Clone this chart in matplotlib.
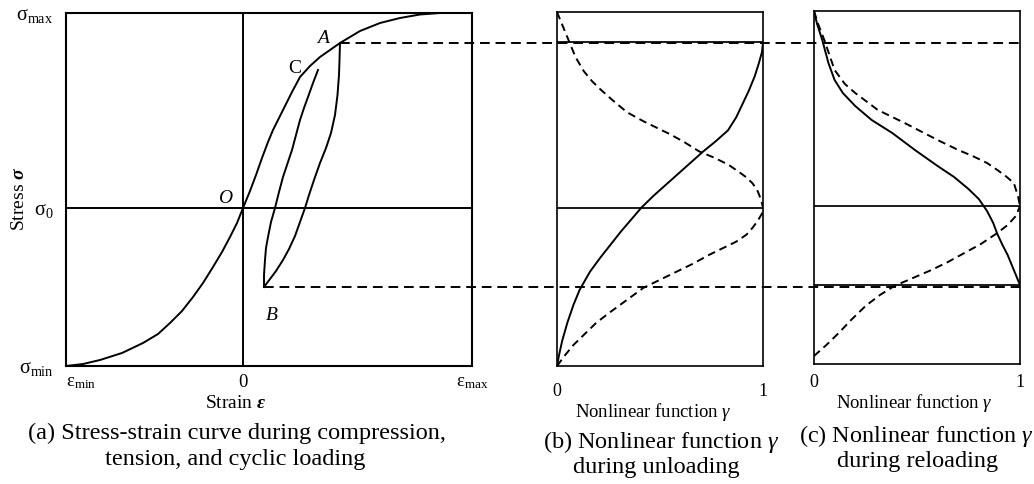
import matplotlib
matplotlib.use("Agg")
import matplotlib.pyplot as plt
from matplotlib.lines import Line2D

plt.rcParams['font.family'] = ['Liberation Serif', 'DejaVu Serif']
plt.rcParams['mathtext.fontset'] = 'custom'
plt.rcParams['mathtext.rm'] = 'Liberation Serif'
plt.rcParams['mathtext.it'] = 'Liberation Serif:italic'
plt.rcParams['mathtext.bf'] = 'Liberation Serif:style=italic:weight=bold'

# ---------------- data (arbitrary units) ----------------
eps_min, eps_max = -177, 229
sig_min, sig_max = -158, 195

strain_main = [-177, -160, -143, -121, -100, -85, -73, -61, -50, -40, -30, -21, -13, -6, 0,
               7, 13, 19, 25, 30, 40, 49, 57, 67, 77, 87, 97, 117, 137, 157, 177, 197, 229]
stress_main = [-158, -156, -152, -145, -135, -126, -115, -103, -89, -75, -59, -44, -29, -15, 0,
               17, 33, 50, 66, 78, 98, 116, 131, 142, 151, 158, 165, 177, 185, 190, 193.5, 195, 195]

strain_unload = [97, 96.5, 96, 94.5, 92, 88, 83, 77, 71, 66, 62, 57, 52, 46, 40, 33, 27, 21]
stress_unload = [165, 148, 133, 113, 93, 75, 60, 45, 28, 13, 0, -14, -28, -41, -52, -63, -71, -79]

strain_reload = [21, 21, 22, 23, 25, 28, 32, 36, 40, 45, 49, 53, 57, 61, 65, 70, 75]
stress_reload = [-79, -67, -52, -40, -29, -14, 0, 16, 31, 46, 58, 73, 88, 100, 111, 125, 138]

point_A = (97, 165)
point_B = (21, -79)

# panel (b): unloading
gamma_b_solid = [0, 0.01, 0.025, 0.05, 0.08, 0.11, 0.16, 0.21, 0.26, 0.31, 0.36, 0.41, 0.47,
                 0.53, 0.59, 0.65, 0.71, 0.77, 0.83, 0.87, 0.90, 0.93, 0.96, 0.98, 0.995, 1.0]
stress_b_solid = [-158, -147, -133, -115, -97, -82, -64, -50, -37, -24, -12, 0, 12,
                  23, 34, 45, 56, 66, 77, 90, 103, 116, 131, 144, 155, 165]
gamma_b_dash_up = [0, 0.03, 0.06, 0.09, 0.13, 0.17, 0.21, 0.27, 0.34, 0.42, 0.49, 0.55, 0.62,
                   0.69, 0.76, 0.83, 0.88, 0.92, 0.95, 0.975, 0.99, 1.0]
stress_b_dash_up = [195, 180, 165, 150, 136, 126, 118, 107, 95, 86, 79, 73, 65,
                    56, 50, 43, 36, 30, 24, 16, 8, 0]
gamma_b_dash_lo = [0, 0.04, 0.08, 0.13, 0.19, 0.26, 0.34, 0.42, 0.50, 0.58, 0.66, 0.74, 0.81,
                   0.87, 0.92, 0.95, 0.975, 0.995, 1.0]
stress_b_dash_lo = [-158, -147, -137, -127, -115, -104, -92, -80, -72, -64, -56, -47, -40,
                    -34, -27, -20, -13, -6, 0]

# panel (c): reloading
gamma_c_solid = [0, 0.015, 0.04, 0.07, 0.10, 0.14, 0.20, 0.28, 0.38, 0.49, 0.60, 0.68, 0.75,
                 0.80, 0.84, 0.87, 0.89, 0.915, 0.94, 0.97, 1.0]
stress_c_solid = [195, 182, 166, 143, 126, 113, 100, 86, 73, 56, 40, 29, 17,
                  7, -5, -17, -28, -39, -49, -64, -79]
gamma_c_dash_up = [0, 0.02, 0.05, 0.10, 0.15, 0.20, 0.31, 0.44, 0.60, 0.70, 0.77, 0.84, 0.89,
                   0.93, 0.97, 0.99, 1.0]
stress_c_dash_up = [195, 182, 166, 136, 122, 113, 96, 83, 66, 56, 50, 43, 36,
                    30, 23, 10, 0]
gamma_c_dash_lo = [0, 0.06, 0.12, 0.18, 0.25, 0.32, 0.39, 0.48, 0.57, 0.65, 0.73, 0.81, 0.89,
                   0.94, 0.98, 1.0]
stress_c_dash_lo = [-150, -139, -127, -114, -100, -89, -80, -72, -64, -56, -47, -38, -27,
                    -19, -10, 0]

x_tick_labels_a = [r'$\mathrm{ε}_{\mathrm{min}}$', '0', r'$\mathrm{ε}_{\mathrm{max}}$']
y_tick_labels_a = [r'$\mathrm{σ}_{\mathrm{min}}$', r'$\mathrm{σ}_{\mathrm{0}}$', r'$\mathrm{σ}_{\mathrm{max}}$']
gamma_ticks = [0, 1]

# ---------------- figure ----------------
W, H = 1034, 484
fig = plt.figure(figsize=(W / 100, H / 100), dpi=100)


def px_axes(left, top, right, bottom):
    return fig.add_axes([left / W, 1 - bottom / H, (right - left) / W, (bottom - top) / H])


ax_a = px_axes(66, 13, 472, 366)
ax_b = px_axes(557, 12, 763, 366)
ax_c = px_axes(814, 11, 1020, 364)

LW = 1.4
DASH = (0, (4, 2.5))
CONN = (0, (5, 3))
K = 'black'

# panel (a)
ax_a.set_xlim(eps_min, eps_max)
ax_a.set_ylim(sig_min, sig_max)
ax_a.axvline(0, color=K, lw=LW)
ax_a.axhline(0, color=K, lw=LW)
ax_a.plot(strain_main, stress_main, color=K, lw=LW, solid_joinstyle='round')
ax_a.plot(strain_unload, stress_unload, color=K, lw=LW, solid_joinstyle='round')
ax_a.plot(strain_reload, stress_reload, color=K, lw=LW, solid_joinstyle='round')
for s in ax_a.spines.values():
    s.set_linewidth(1.5)
ax_a.set_xticks([eps_min, 0, eps_max])
ax_a.set_xticklabels(x_tick_labels_a, fontsize=13.5)
ax_a.get_xticklabels()[0].set_ha('left')
ax_a.set_yticks([sig_min, 0, sig_max])
ax_a.set_yticklabels(y_tick_labels_a, fontsize=14.5)
ax_a.tick_params(axis='x', length=0, pad=6)
ax_a.tick_params(axis='y', length=0, pad=9)
ax_a.set_xlabel(r'Strain $\mathbf{ε}$', fontsize=14)
ax_a.xaxis.set_label_coords(0.419, -0.105)
ax_a.xaxis.label.set_va('center')
ax_a.set_ylabel(r'Stress $\mathbf{σ}$', fontsize=14)
ax_a.yaxis.set_label_coords(-0.114, 0.473)
ax_a.yaxis.label.set_va('center')

ax_a.text(80, 170, 'A', style='italic', fontsize=14, ha='center', va='center')
ax_a.text(52, 140, 'C', fontsize=14, ha='center', va='center')
ax_a.text(-18, 10, 'O', style='italic', fontsize=14, ha='center', va='center')
ax_a.text(29, -107, 'B', style='italic', fontsize=14, ha='center', va='center')

# panel (b)
ax_b.set_xlim(0, 1)
ax_b.set_ylim(sig_min, sig_max)
ax_b.axhline(0, color=K, lw=LW * 0.9)
ax_b.axhline(point_A[1], color=K, lw=LW * 0.9)
ax_b.plot(gamma_b_solid, stress_b_solid, color=K, lw=LW, solid_joinstyle='round')
ax_b.plot(gamma_b_dash_up, stress_b_dash_up, color=K, lw=LW, linestyle=DASH)
ax_b.plot(gamma_b_dash_lo, stress_b_dash_lo, color=K, lw=LW, linestyle=DASH)

# panel (c)
ax_c.set_xlim(0, 1)
ax_c.set_ylim(sig_min, sig_max)
ax_c.axhline(0, color=K, lw=LW * 0.9)
ax_c.axhline(point_B[1], color=K, lw=LW * 0.9)
ax_c.plot(gamma_c_solid, stress_c_solid, color=K, lw=LW, solid_joinstyle='round')
ax_c.plot(gamma_c_dash_up, stress_c_dash_up, color=K, lw=LW, linestyle=DASH)
ax_c.plot(gamma_c_dash_lo, stress_c_dash_lo, color=K, lw=LW, linestyle=DASH)

for ax, pad, lab_xy in ((ax_b, 12, (0.466, -0.130)), (ax_c, 7, (0.485, -0.110))):
    for s in ax.spines.values():
        s.set_linewidth(1.2)
    ax.set_xticks(gamma_ticks)
    ax.set_xticklabels([str(g) for g in gamma_ticks], fontsize=13)
    ax.set_yticks([])
    ax.tick_params(axis='x', length=0, pad=pad)
    ax.set_xlabel(r'Nonlinear function $\mathit{γ}$', fontsize=13.5)
    ax.xaxis.set_label_coords(*lab_xy)
    ax.xaxis.label.set_va('center')

# dashed connectors from A and B to the right edge of panel (c)
inv = fig.transFigure.inverted()
x_end = ax_c.transAxes.transform((1, 0))[0]
for pt in (point_A, point_B):
    x0, y0 = ax_a.transData.transform(pt)
    p0 = inv.transform((x0, y0))
    p1 = inv.transform((x_end, y0))
    fig.add_artist(Line2D([p0[0], p1[0]], [p0[1], p1[1]], transform=fig.transFigure,
                          color=K, lw=LW, linestyle=CONN))

# captions


def cap(x, y, s, size=17.5):
    fig.text(x / W, 1 - y / H, s, fontsize=size, ha='center', va='center')


cap(237, 433, '(a) Stress-strain curve during compression,')
cap(235, 459, 'tension, and cyclic loading')
cap(661, 442, r'(b) Nonlinear function $\mathit{γ}$')
cap(656, 468, 'during unloading')
cap(916, 436, r'(c) Nonlinear function $\mathit{γ}$')
cap(918, 462, 'during reloading')

fig.savefig('out.png', dpi=100)
